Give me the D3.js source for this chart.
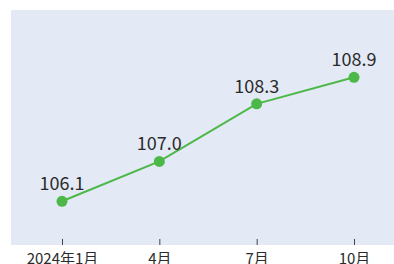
<!DOCTYPE html>
<html>
<head>
<meta charset="utf-8">
<script src="https://cdn.jsdelivr.net/npm/d3@7"></script>
<style>
  body { margin: 0; background: #fff; }
  svg { display: block; }
  .axis text { font-family: "Noto Sans CJK SC", "Noto Sans", sans-serif; font-size: 15px; fill: #2b2b2b; }
  .axis path { display: none; }
  .axis line { stroke: #444; }
  .label { font-family: "Noto Sans CJK SC", "Noto Sans", sans-serif; font-size: 18px; fill: #2b2b2b; }
</style>
</head>
<body>
<div class="chart"></div>
<script>
var w = 394,
    h = 264,
    plot = {left: 11, top: 10, right: 394, bottom: 245};

var months = ["2024年1月", "4月", "7月", "10月"],
    values = [106.1, 107.0, 108.3, 108.9];

var x = d3.scalePoint().domain(months).range([62, 354]),
    y = d3.scaleLinear().domain([106.1, 108.9]).range([201.3, 77.3]);

var svg = d3.select(".chart").append("svg")
    .attr("width", w)
    .attr("height", h);

svg.append("rect")
    .attr("x", plot.left)
    .attr("y", plot.top)
    .attr("width", plot.right - plot.left)
    .attr("height", plot.bottom - plot.top)
    .attr("fill", "#e3e9f5");

svg.append("g")
    .attr("class", "axis")
    .attr("transform", "translate(0," + plot.bottom + ")")
    .call(d3.axisBottom(x).tickSizeInner(-6).tickSizeOuter(0).tickPadding(8));

var line = d3.line()
    .x(function(d, i) { return x(months[i]); })
    .y(function(d) { return y(d); });

svg.append("path")
    .datum(values)
    .attr("d", line)
    .attr("fill", "none")
    .attr("stroke", "#4cb848")
    .attr("stroke-width", 2);

svg.selectAll(".dot")
    .data(values)
  .enter().append("circle")
    .attr("class", "dot")
    .attr("cx", function(d, i) { return x(months[i]); })
    .attr("cy", function(d) { return y(d); })
    .attr("r", 5.5)
    .attr("fill", "#4cb848");

svg.selectAll(".label")
    .data(values)
  .enter().append("text")
    .attr("class", "label")
    .attr("x", function(d, i) { return x(months[i]); })
    .attr("y", function(d) { return y(d) - 11; })
    .attr("text-anchor", "middle")
    .text(function(d) { return d.toFixed(1); });
</script>
</body>
</html>
